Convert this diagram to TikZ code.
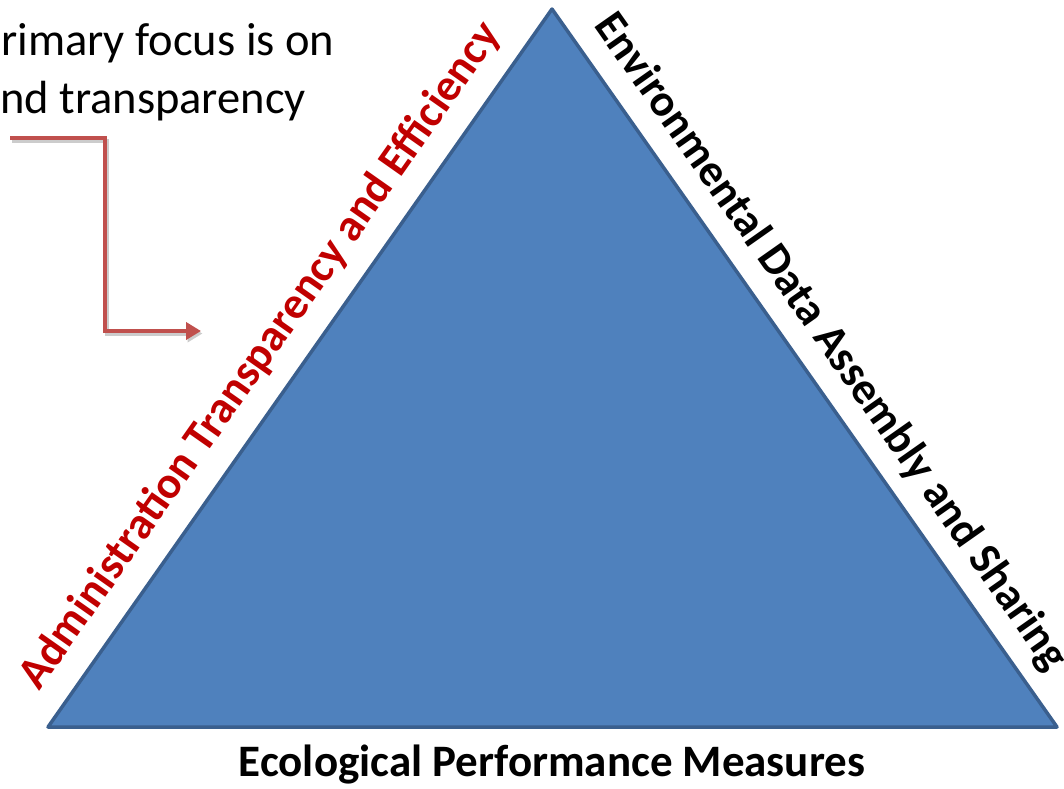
\documentclass[tikz,border=0pt]{standalone}
\usepackage{fontspec}
\setmainfont{Carlito}
\usetikzlibrary{calc,arrows.meta}
\definecolor{triFill}{HTML}{4F81BD}
\definecolor{triLine}{HTML}{3A5F8E}
\definecolor{arrRed}{HTML}{C0504D}
\definecolor{labRed}{HTML}{C00000}
\tikzset{
  tri/.style={fill=triFill,draw=triLine,line width=3.5pt,line join=round},
  sidelabel/.style={font=\fontsize{45}{52}\selectfont\bfseries,inner sep=0pt,anchor=base},
  notetext/.style={font=\fontsize{46.5}{54}\selectfont,inner sep=0pt,anchor=base west},
  redarrow/.style={draw=arrRed,line width=4pt,-{Triangle[length=15pt,width=17pt]}},
  shadowarrow/.style={draw=black!20,line width=4pt,-{Triangle[length=15pt,width=17pt]}}
}
\begin{document}
\begin{tikzpicture}[x=1pt,y=-1pt]
\useasboundingbox (0,0) rectangle (1064,788);
\coordinate (A) at (552,9);
\coordinate (BL) at (48,727);
\coordinate (BR) at (1057,727);
\draw[tri] (A) -- (BR) -- (BL) -- cycle;
\coordinate (ML) at ($(BL)!0.485!(A)$);
\coordinate (MR) at ($(BR)!0.507!(A)$);
\node[sidelabel,text=labRed,rotate=54.9] (left) at ($(ML)!27pt!90:(A)$) {Administration Transparency and Efficiency};
\node[sidelabel,rotate=-54.9] (right) at ($(MR)!24pt!-90:(A)$) {Environmental Data Assembly and Sharing};
\node[sidelabel] (bottom) at (552,776) {Ecological Performance Measures};
\node[notetext] (n1) at (1,55) {rimary focus is on};
\node[notetext] (n2) at (0,113) {nd transparency};
\coordinate (s) at (10,138);
\coordinate (c1) at (105,138);
\coordinate (c2) at (105,331);
\coordinate (e) at (201,331);
\draw[shadowarrow] ($(s)+(1.5,2.5)$) -- ($(c1)+(1.5,2.5)$) -- ($(c2)+(1.5,2.5)$) -- ($(e)+(1.5,2.5)$);
\draw[redarrow] (s) -- (c1) -- (c2) -- (e);
\end{tikzpicture}
\end{document}
